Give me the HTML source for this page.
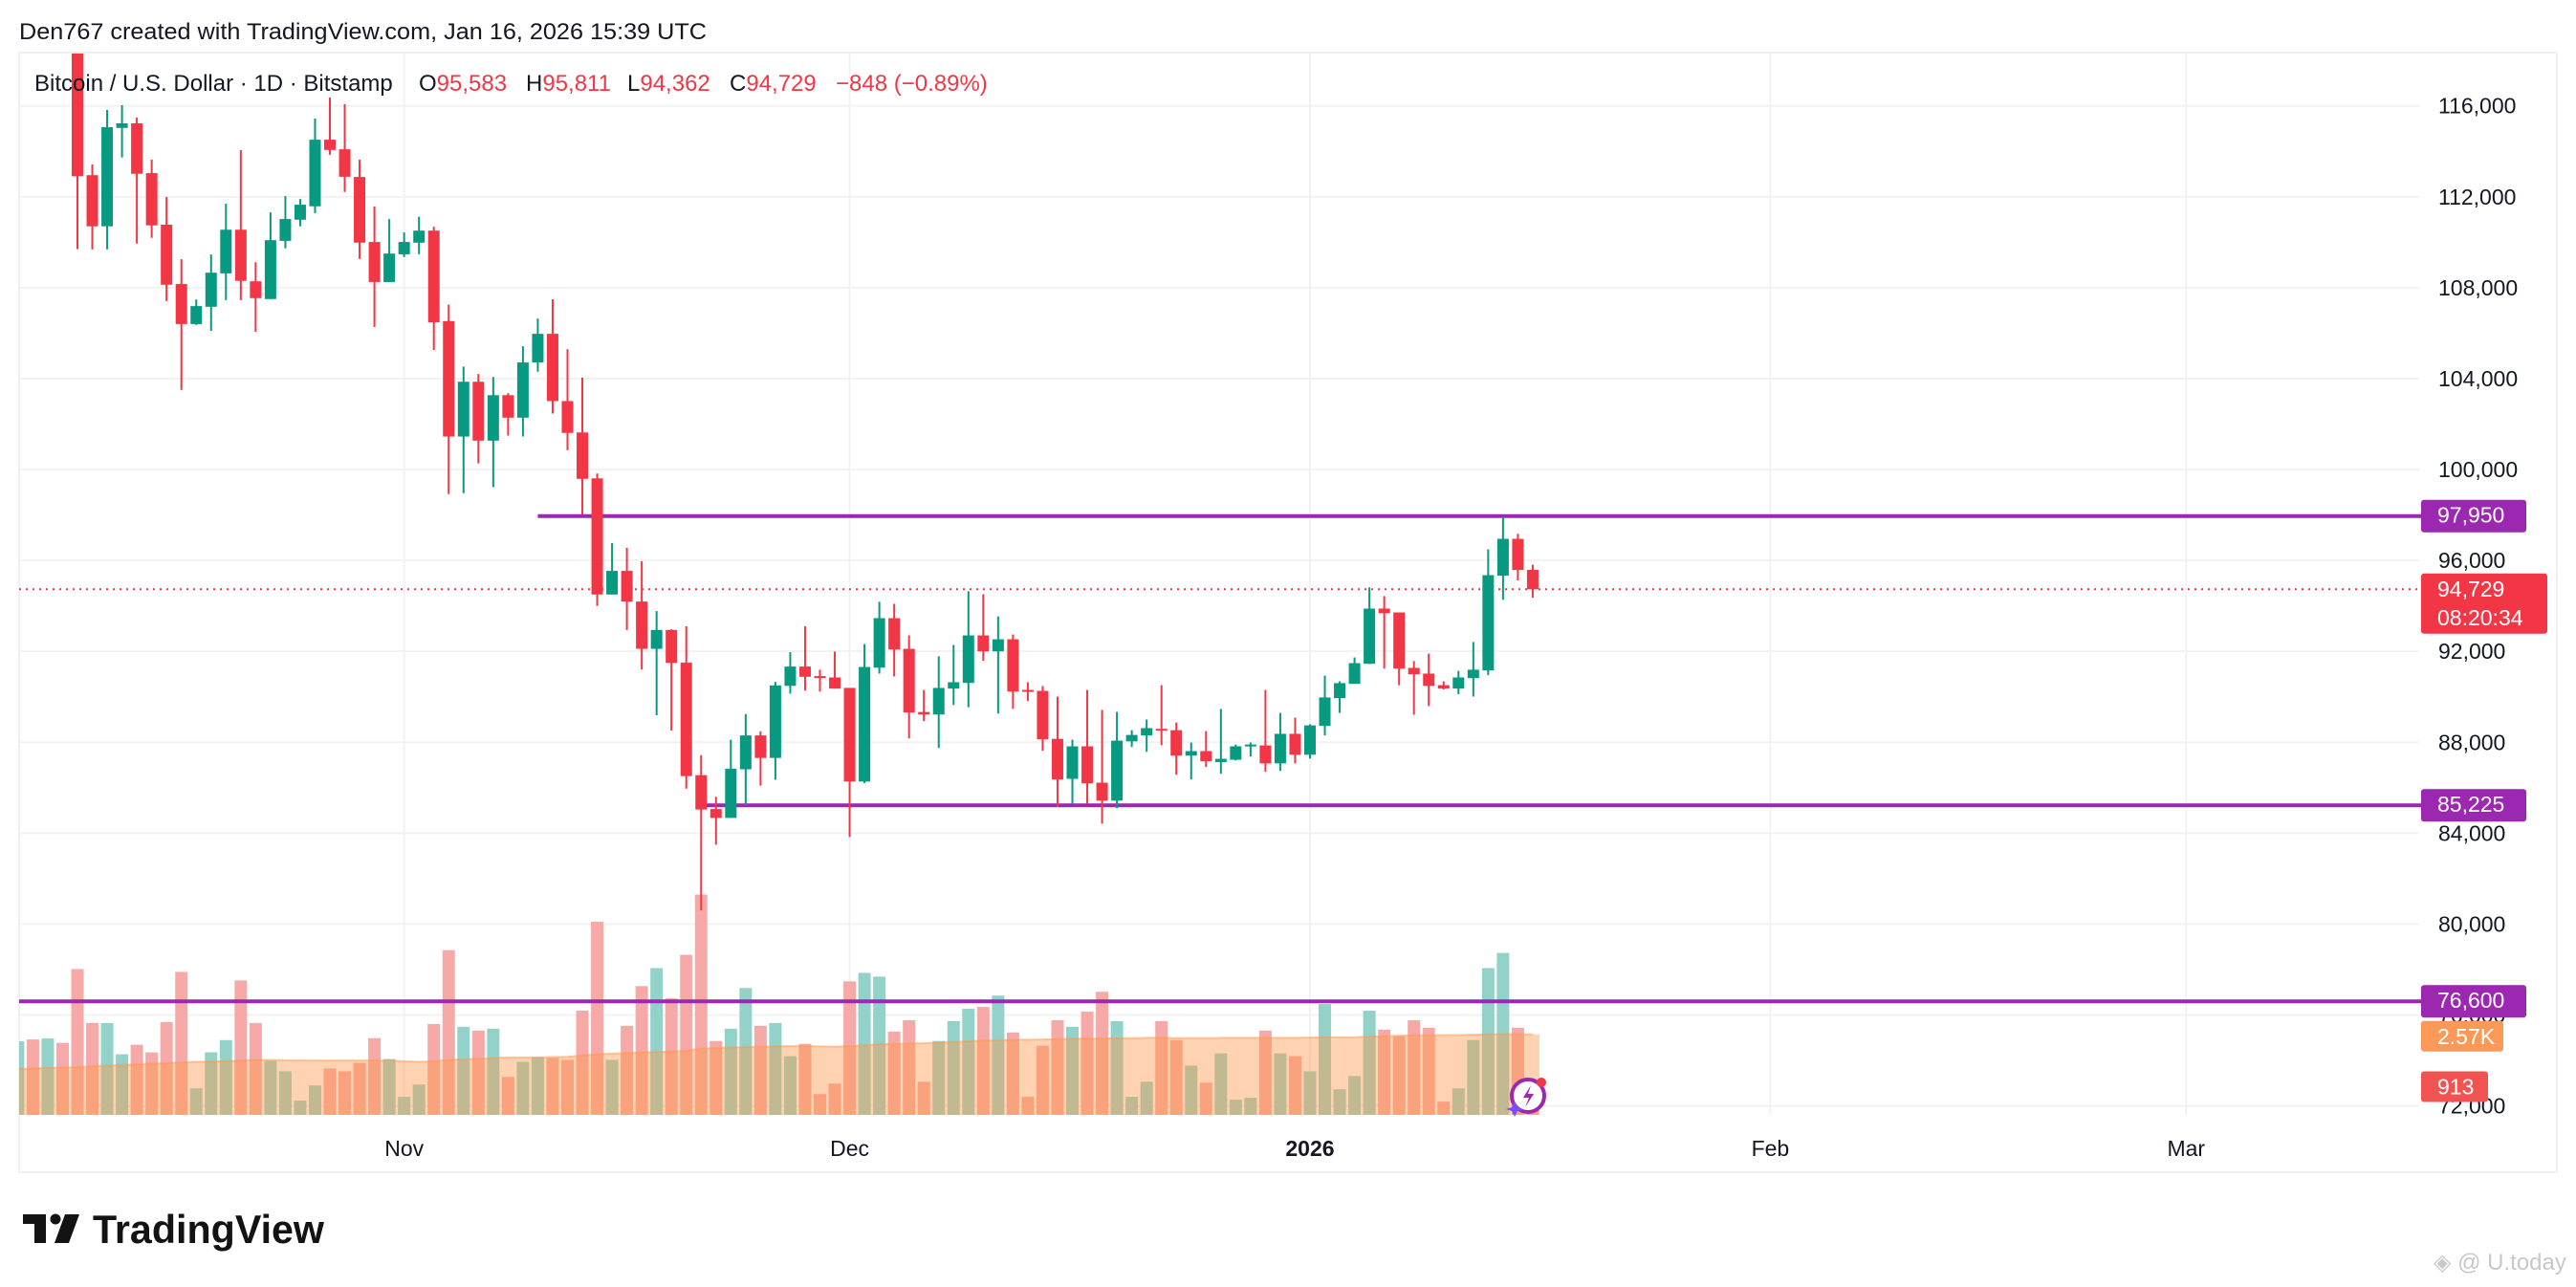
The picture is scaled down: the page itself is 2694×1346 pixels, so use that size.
<!DOCTYPE html>
<html><head><meta charset="utf-8"><style>
html,body{margin:0;padding:0;background:#fff;}
svg{display:block;font-family:"Liberation Sans",sans-serif;}
</style></head><body>
<svg id="chart" width="2694" height="1346" viewBox="0 0 2694 1346" xmlns="http://www.w3.org/2000/svg">
<rect x="0" y="0" width="2694" height="1346" fill="#fff"/>
<text x="20" y="41" font-size="24" fill="#131722" textLength="719" lengthAdjust="spacingAndGlyphs">Den767 created with TradingView.com, Jan 16, 2026 15:39 UTC</text>
<rect x="20" y="55" width="2654" height="1171" fill="none" stroke="#f0f0f0" stroke-width="2"/>
<g id="grid"></g>
<g id="axis"></g>
<g id="xaxis"></g>
<defs><clipPath id="pane"><rect x="20" y="56" width="2510" height="1110"/></clipPath></defs>
<g id="vol" clip-path="url(#pane)"></g>
<g id="levels"></g>
<g id="candles" clip-path="url(#pane)"></g>
<rect x="20" y="60" width="1040" height="50" fill="#fff" opacity="0"/>
<text x="36" y="95" font-size="24" fill="#131722">
<tspan>Bitcoin / U.S. Dollar · 1D · Bitstamp</tspan>
<tspan x="438">O</tspan><tspan fill="#f23645">95,583</tspan>
<tspan x="550">H</tspan><tspan fill="#f23645">95,811</tspan>
<tspan x="656">L</tspan><tspan fill="#f23645">94,362</tspan>
<tspan x="763">C</tspan><tspan fill="#f23645">94,729</tspan>
<tspan x="874" fill="#f23645">−848 (−0.89%)</tspan>
</text>
<g id="labels"></g>
<g transform="translate(1598,1146)">
<circle cx="0" cy="0" r="17" fill="#fff" stroke="#9c27b0" stroke-width="4"/>
<path d="M3,-11 L-5,2 L1,2 L-3,12 L6,-2 L0,-2 Z" fill="#9c27b0"/>
<circle cx="14" cy="-14" r="5" fill="#f23645"/>
<path d="M-14,6 L-11,12 L-5,14 L-11,16 L-14,22 L-17,16 L-23,14 L-17,12 Z" fill="#7c4dff"/>
</g>
<g>
<rect x="24" y="1270" width="24" height="10" fill="#131313"/>
<rect x="36" y="1270" width="12" height="30" fill="#131313"/>
<circle cx="58" cy="1275" r="5.5" fill="#131313"/>
<polygon points="68,1270 83,1270 72,1300 57,1300" fill="#131313"/>
<text x="97" y="1300" font-size="42" font-weight="bold" fill="#131313" textLength="242" lengthAdjust="spacingAndGlyphs">TradingView</text>
</g>
<text x="2545" y="1328" font-size="24" fill="#c8c8c8">◈ @ U.today</text>
</svg>
<script>
// ---- data (Oct 6, 2025 .. Jan 16, 2026, daily) ----
const opens=[123500,124700,121400,123300,121700,112950,110700,115030,115230,113040,110770,108160,106400,107160,108630,110550,108280,107500,110060,110990,111580,114510,114090,112870,110010,108250,109470,109980,110510,106530,101450,103860,101270,103270,102280,104710,105970,103010,101630,99610,94500,95540,94190,92110,92940,91500,86550,85060,84670,86810,88300,87310,90480,91330,90910,90850,90390,86270,91280,93460,92110,89330,89220,90360,90610,92700,92000,92530,90300,90260,88150,86390,87820,86220,85430,88040,88300,88590,88530,87410,87610,87130,87230,87850,87860,87070,88370,87450,88720,89940,90570,91450,93880,93710,91270,91020,90510,90360,90820,91160,95330,96950,95583];
const highs=[126200,125100,124100,123700,122500,113420,115820,116030,115480,113630,111990,109250,107480,109460,111690,114050,109120,111310,112030,111900,115440,116370,116070,113630,111570,111020,110430,111120,110680,107260,104530,104200,104070,103360,105420,106640,107490,105290,104040,99820,96760,96550,95960,93770,92970,93100,87430,85600,88110,89240,88480,90650,91960,93100,91190,91990,90390,92320,94180,94090,92700,90300,91780,92280,94640,94510,93540,92740,90640,90470,90010,88110,90300,89420,89330,88530,89000,90510,88870,87990,88490,89460,87900,87990,90300,89290,89080,88790,90930,90680,91730,94810,94430,93710,91570,91900,90680,91140,92410,96490,97920,97170,95811];
const lows=[123100,120600,121100,119600,109700,109680,109680,113730,109940,110190,107410,103500,106360,106100,107450,107450,106060,107500,109730,110700,111280,113850,112210,109260,106270,108250,109350,109470,105260,98920,98960,100270,99220,101490,101450,104300,102460,100850,98020,94000,94500,92940,91200,89190,88510,85960,80600,83490,84670,85240,86090,86350,90140,90270,90230,90360,83830,86200,91020,90900,88170,88930,87750,89640,89540,91580,89260,89470,89810,87620,85150,85280,85280,84420,85100,87790,87580,87870,86570,86360,86910,86610,87200,87370,86700,86740,87070,87280,88300,89290,90570,91450,91240,90510,89210,89590,90320,90110,90010,90950,94270,95120,94362];
const closes=[124700,121400,123300,121700,112900,110700,115060,115230,113010,110740,108130,106400,107190,108660,110550,108300,107540,110090,111020,111650,114510,114060,112880,109980,108250,109500,110010,110510,106480,101450,103860,101270,103270,102280,104710,105970,103010,101610,99590,94500,95540,94190,92110,92940,91490,86510,85040,84670,86830,88300,87310,90500,91330,90880,90900,90360,86270,91310,93460,92080,89310,89220,90390,90640,92700,92000,92530,90230,90270,88130,86360,87820,86190,85430,88070,88320,88620,88520,87410,87610,87160,87270,87820,87900,87070,88370,87450,88740,89970,90600,91480,93880,93680,91240,90990,90480,90360,90850,91190,95350,96950,95580,94729];
const volumes=[2350,2410,2440,2300,4640,2930,2930,1940,2240,2000,2960,4550,860,2000,2390,4280,2930,1730,1400,470,950,1490,1400,1670,2450,1790,590,980,2900,5240,2810,2690,2750,1220,1700,1850,1820,1760,3320,6140,1760,2840,4100,4670,3710,5090,7000,2360,2750,4040,2840,2930,1880,2270,680,1010,4250,4520,4400,2660,3020,1070,2360,2990,3380,3440,3800,2630,590,2210,3020,2810,3290,3920,2990,590,1070,2990,2390,1580,1040,1970,500,560,2690,1970,1880,1400,3530,830,1250,3320,2720,2510,3020,2780,440,860,2390,4670,5150,2780,913];
const volMA=[1470,1490,1510,1520,1530,1560,1580,1600,1620,1640,1660,1680,1700,1710,1720,1740,1760,1760,1750,1740,1740,1740,1740,1740,1740,1740,1720,1700,1720,1760,1780,1800,1820,1840,1840,1840,1850,1860,1900,1940,1960,1980,2000,2010,2030,2050,2120,2140,2160,2170,2180,2190,2200,2200,2190,2180,2200,2220,2260,2270,2280,2290,2310,2330,2350,2370,2380,2400,2400,2410,2420,2430,2440,2440,2450,2450,2460,2460,2450,2450,2450,2460,2460,2460,2460,2460,2460,2470,2480,2480,2480,2500,2510,2530,2540,2540,2550,2550,2560,2570,2580,2580,2570];
const priceTicks=[116000,112000,108000,104000,100000,96000,92000,88000,84000,80000,76000,72000];
const monthLabels=["Nov","Dec","2026","Feb","Mar"];
const monthIndex=[26,56,87,118,146];
const levelValues=[97950,85225,76600];
const levelStart=[35,46,-2];
const lastPrice=94729;
const countdown="08:20:34";
const volMALabel="2.57K";
const lastVolLabel="913";

// ---- axes ----
const NS="http://www.w3.org/2000/svg";
function x(i){return 81+(i-4)*15.53;}
function y(p){return 110.7+(116000-p)*0.02377;}
function yv(v){return 1166.6-v*0.033;}
function mk(tag,attrs,parent){const e=document.createElementNS(NS,tag);for(const k in attrs)e.setAttribute(k,attrs[k]);parent.appendChild(e);return e;}
function fmt(n){return n.toLocaleString('en-US');}
const grid=document.getElementById('grid'),axis=document.getElementById('axis'),xaxis=document.getElementById('xaxis');
const vol=document.getElementById('vol'),candles=document.getElementById('candles'),levels=document.getElementById('levels'),labels=document.getElementById('labels');

priceTicks.forEach(p=>{
  const l=mk('line',{x1:20,x2:2530,y1:y(p),y2:y(p),stroke:'#f2f2f2','stroke-width':2},grid);
  
  
  const t=mk('text',{x:2550,y:y(p)+8,'font-size':23,fill:'#131722'},axis);
  t.textContent=fmt(p);
  
  
});
monthLabels.forEach((m,j)=>{
  const xx=x(monthIndex[j]);
  const l=mk('line',{x1:xx,x2:xx,y1:56,y2:1166,stroke:'#f2f2f2','stroke-width':2},grid);
  
  
  const t=mk('text',{x:xx,y:1209,'font-size':23,fill:'#131722','text-anchor':'middle','font-weight':m==='2026'?'bold':'normal'},xaxis);
  t.textContent=m;
  
  
});

// ---- volume ----
volumes.forEach((v,i)=>{
  const up=closes[i]>=opens[i];
  const r=mk('rect',{x:x(i)-6.5,y:yv(v),width:13,height:1166.6-yv(v),fill:up?'#93d2c9':'#f7a9a7'},vol);
  
  
});
let d='M'+(x(0)-8)+','+yv(0);
volMA.forEach((v,i)=>{d+=' L'+x(i)+','+yv(v);});
d+=' L'+(x(volMA.length-1)+7)+','+yv(volMA[volMA.length-1])+' L'+(x(volMA.length-1)+7)+','+yv(0)+' Z';
const area=mk('path',{d:d,fill:'rgba(255,150,70,0.42)'},vol);


let d2='';
volMA.forEach((v,i)=>{d2+=(i?' L':'M')+x(i)+','+yv(v);});
const maLine=mk('path',{d:d2,fill:'none',stroke:'rgba(255,152,80,0.5)','stroke-width':2},vol);



// ---- levels ----
levelValues.forEach((p,j)=>{
  const xs=levelStart[j]<0?20:x(levelStart[j]);
  const l=mk('line',{x1:xs,x2:2532,y1:y(p),y2:y(p),stroke:'#9c27b0','stroke-width':4},levels);
  
  
});
const pl=mk('line',{x1:20,x2:2530,y1:y(lastPrice),y2:y(lastPrice),stroke:'#f23645','stroke-width':2,'stroke-dasharray':'2 5'},levels);



// ---- candles ----
opens.forEach((o,i)=>{
  const c=closes[i],up=c>=o,col=up?'#089981':'#f23645';
  const g=mk('g',{},candles);
  
  
  mk('line',{x1:x(i),x2:x(i),y1:y(highs[i]),y2:y(lows[i]),stroke:col,'stroke-width':2},g);
  const top=y(Math.max(o,c)),bot=y(Math.min(o,c));
  mk('rect',{x:x(i)-6,y:top,width:12,height:Math.max(2,bot-top),fill:col},g);
});

// ---- axis labels ----
function box(val,lines,fill,w,h,name){
  const cy=val;
  const r=mk('rect',{x:2532,y:cy-h/2,width:w,height:h,rx:3,fill:fill},labels);
  
  
  lines.forEach((s,k)=>{
    const t=mk('text',{x:2549,y:cy-h/2+24+k*30,'font-size':23,fill:'#fff'},labels);
    t.textContent=s;
    
    
  });
}
levelValues.forEach(p=>box(y(p),[fmt(p)],'#9c27b0',110,34,'level-price-label'));
box(y(lastPrice)+15,[fmt(lastPrice),countdown],'#f23645',132,63,'last-price-label');
box(yv(volMA[volMA.length-1])+2,[volMALabel],'#fb9a57',86,32,'volume-ma-label');
box(yv(volumes[volumes.length-1]),[lastVolLabel],'#f05350',70,32,'last-volume-label');
</script>
</body></html>
